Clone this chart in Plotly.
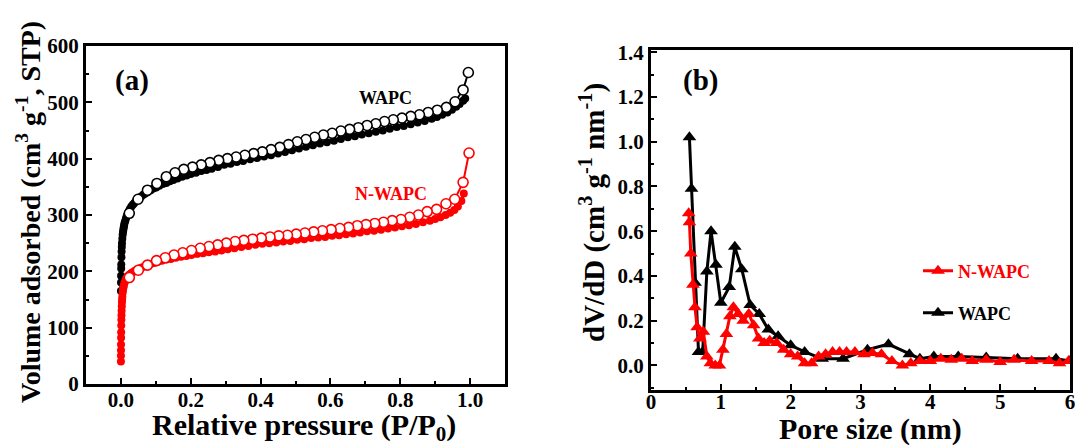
import plotly.graph_objects as go

W, H = 1077, 445

# ---------------- Panel (a): N2 isotherms ----------------
wapc_ads_p = [0.0001, 0.0003, 0.0005, 0.0008, 0.001, 0.0015, 0.002, 0.0025, 0.003, 0.004,
              0.005, 0.006, 0.007, 0.008, 0.009, 0.010, 0.012, 0.014, 0.016, 0.018,
              0.020, 0.023, 0.026, 0.030, 0.034, 0.038, 0.042, 0.047, 0.052, 0.058,
              0.064, 0.070, 0.077, 0.085, 0.093, 0.101, 0.110, 0.120, 0.130, 0.140,
              0.150, 0.162, 0.175, 0.188, 0.200, 0.215, 0.230, 0.245, 0.260, 0.278,
              0.296, 0.314, 0.332, 0.350, 0.370, 0.390, 0.410, 0.430, 0.450, 0.470,
              0.490, 0.510, 0.530, 0.550, 0.570, 0.590, 0.610, 0.630, 0.650, 0.670,
              0.690, 0.710, 0.730, 0.750, 0.770, 0.790, 0.810, 0.830, 0.850, 0.870,
              0.890, 0.905, 0.920, 0.935, 0.948, 0.960, 0.970, 0.980, 0.986]
wapc_ads_v = [165, 180, 192, 205, 212, 225, 235, 243, 250, 258,
              265, 270, 274, 278, 281, 285, 289, 293, 297, 300,
              303, 307, 311, 315, 318, 321, 324, 327, 330, 333,
              336, 338, 341, 344, 347, 349, 352, 355, 357, 360,
              362, 365, 368, 370, 373, 375, 378, 380, 382, 385,
              389, 391, 394, 396, 399, 401, 404, 406, 409, 412,
              415, 418, 421, 424, 427, 429, 432, 435, 438, 440,
              443, 445, 448, 450, 453, 456, 458, 461, 464, 467,
              471, 474, 478, 482, 487, 492, 497, 503, 507]

wapc_des_p = [0.995, 0.980, 0.957, 0.932, 0.906, 0.880, 0.855, 0.830, 0.805, 0.780,
              0.755, 0.730, 0.705, 0.680, 0.655, 0.630, 0.605, 0.580, 0.555, 0.530,
              0.505, 0.480, 0.455, 0.430, 0.405, 0.380, 0.355, 0.330, 0.305, 0.280,
              0.255, 0.230, 0.205, 0.180, 0.155, 0.130, 0.103, 0.076, 0.049, 0.024]
wapc_des_v = [553, 522, 501, 491, 486, 482, 478, 475, 472, 469,
              466, 462, 459, 455, 452, 449, 445, 442, 438, 434,
              430, 425, 420, 416, 412, 409, 406, 403, 400, 397,
              393, 389, 385, 381, 375, 368, 356, 344, 328, 303]

nwapc_ads_p = [0.0000, 0.0001, 0.0002, 0.0003, 0.0005, 0.0007, 0.001, 0.0013, 0.0016, 0.002,
               0.0025, 0.003, 0.0035, 0.004, 0.005, 0.006, 0.007, 0.008, 0.010, 0.012,
               0.015, 0.018, 0.022, 0.026, 0.030, 0.035, 0.040, 0.046, 0.052, 0.060,
               0.068, 0.076, 0.085, 0.095, 0.105, 0.117, 0.130, 0.143, 0.157, 0.172,
               0.187, 0.202, 0.218, 0.235, 0.252, 0.270, 0.288, 0.306, 0.325, 0.345,
               0.365, 0.385, 0.405, 0.425, 0.445, 0.465, 0.485, 0.505, 0.525, 0.545,
               0.565, 0.585, 0.605, 0.625, 0.645, 0.665, 0.685, 0.705, 0.725, 0.745,
               0.765, 0.785, 0.805, 0.825, 0.845, 0.865, 0.885, 0.900, 0.915, 0.930,
               0.943, 0.955, 0.965, 0.975, 0.982]
nwapc_ads_v = [40, 50, 60, 70, 82, 92, 104, 114, 122, 130,
               138, 145, 150, 155, 162, 167, 171, 174, 179, 183,
               187, 190, 193, 195, 197, 199, 201, 203, 205, 207,
               209, 211, 213, 215, 217, 219, 221, 222, 224, 226,
               227, 229, 231, 232, 234, 235, 237, 239, 241, 243,
               245, 247, 249, 250, 251, 253, 254, 256, 257, 259,
               260, 261, 263, 264, 266, 267, 269, 271, 272, 274,
               276, 278, 280, 282, 284, 287, 290, 293, 296, 300,
               304, 309, 315, 325, 338]

nwapc_des_p = [0.997, 0.980, 0.956, 0.931, 0.904, 0.877, 0.852, 0.827, 0.802, 0.777,
               0.752, 0.727, 0.702, 0.677, 0.652, 0.627, 0.602, 0.577, 0.552, 0.527,
               0.502, 0.477, 0.452, 0.427, 0.402, 0.377, 0.352, 0.327, 0.302, 0.277,
               0.252, 0.227, 0.202, 0.177, 0.152, 0.127, 0.102, 0.076, 0.050, 0.024]
nwapc_des_v = [410, 358, 328, 320, 310, 306, 300, 296, 292, 290,
               287, 285, 283, 281, 278, 276, 274, 272, 270, 268,
               266, 264, 263, 261, 259, 257, 255, 253, 250, 247,
               244, 241, 237, 233, 229, 224, 219, 211, 202, 189]

# ---------------- Panel (b): pore size distribution ----------------
wapc_psd_d = [0.55, 0.58, 0.63, 0.68, 0.74, 0.80, 0.86, 0.93, 1.00, 1.12,
              1.20, 1.30, 1.42, 1.55, 1.68, 1.82, 2.00, 2.20, 2.45, 2.75,
              3.10, 3.40, 3.70, 3.85, 4.05, 4.40, 4.80, 5.25, 5.80, 6.00]
wapc_psd_v = [1.02, 0.79, 0.37, 0.06, 0.06, 0.42, 0.60, 0.45, 0.28, 0.35,
              0.53, 0.43, 0.27, 0.23, 0.16, 0.13, 0.09, 0.06, 0.03, 0.03,
              0.07, 0.095, 0.05, 0.03, 0.04, 0.04, 0.035, 0.03, 0.03, 0.02]

nwapc_psd_d = [0.54, 0.55, 0.57, 0.60, 0.63, 0.66, 0.70, 0.75, 0.80, 0.85,
               0.92, 0.98, 1.03, 1.08, 1.13, 1.18, 1.25, 1.32, 1.40, 1.47,
               1.54, 1.62, 1.70, 1.80, 1.90, 2.00, 2.10, 2.20, 2.30, 2.40,
               2.50, 2.60, 2.70, 2.80, 2.92, 3.05, 3.17, 3.30, 3.45, 3.60,
               3.72, 3.85, 4.00, 4.15, 4.30, 4.45, 4.60, 4.80, 5.00, 5.20,
               5.45, 5.70, 5.85, 5.98]
nwapc_psd_v = [0.68, 0.64, 0.50, 0.36, 0.26, 0.17, 0.12, 0.15, 0.04, 0.01,
               0.00, 0.00, 0.07, 0.14, 0.22, 0.26, 0.23, 0.20, 0.23, 0.18,
               0.12, 0.10, 0.11, 0.10, 0.07, 0.05, 0.04, 0.01, 0.01, 0.04,
               0.05, 0.06, 0.06, 0.06, 0.06, 0.05, 0.055, 0.05, 0.02, 0.00,
               0.01, 0.02, 0.02, 0.03, 0.025, 0.03, 0.02, 0.025, 0.015, 0.025,
               0.02, 0.02, 0.01, 0.02]

RED = "#ff0000"
BLK = "#000000"
FONT = "Liberation Serif, Times New Roman, Times, serif"

fig = go.Figure()

# panel (a) traces
fig.add_trace(go.Scatter(x=wapc_ads_p, y=wapc_ads_v, mode="lines+markers",
                         line=dict(color=BLK, width=3),
                         marker=dict(symbol="circle", size=8, color=BLK),
                         xaxis="x", yaxis="y", showlegend=False))
fig.add_trace(go.Scatter(x=nwapc_ads_p, y=nwapc_ads_v, mode="lines+markers",
                         line=dict(color=RED, width=3),
                         marker=dict(symbol="circle", size=8, color=RED),
                         xaxis="x", yaxis="y", showlegend=False))
fig.add_trace(go.Scatter(x=wapc_des_p, y=wapc_des_v, mode="lines+markers",
                         line=dict(color=BLK, width=2),
                         marker=dict(symbol="circle", size=10, color="white",
                                     line=dict(color=BLK, width=1.6)),
                         xaxis="x", yaxis="y", showlegend=False))
fig.add_trace(go.Scatter(x=nwapc_des_p, y=nwapc_des_v, mode="lines+markers",
                         line=dict(color=RED, width=2),
                         marker=dict(symbol="circle", size=10, color="white",
                                     line=dict(color=RED, width=1.6)),
                         xaxis="x", yaxis="y", showlegend=False))

# panel (b) traces
fig.add_trace(go.Scatter(x=wapc_psd_d, y=wapc_psd_v, mode="lines+markers",
                         name="<b>WAPC</b>",
                         line=dict(color=BLK, width=3),
                         marker=dict(symbol="triangle-up", size=12, color=BLK),
                         xaxis="x2", yaxis="y2", legend="legend2"))
fig.add_trace(go.Scatter(x=nwapc_psd_d, y=nwapc_psd_v, mode="lines+markers",
                         name="<b><span style='color:#ff0000'>N-WAPC</span></b>",
                         line=dict(color=RED, width=3),
                         marker=dict(symbol="triangle-up", size=12, color=RED),
                         xaxis="x2", yaxis="y2", legend="legend"))

def px_x(p):
    return p / W

def px_y(p):
    return (H - p) / H

tickfont = dict(family=FONT, size=21, color=BLK, weight="bold")
axis_common = dict(showline=True, linecolor=BLK, linewidth=3, mirror=True,
                   ticks="inside", ticklen=6, tickwidth=2, tickcolor=BLK,
                   showgrid=False, zeroline=False, tickfont=tickfont,
                   automargin=False)
minor_common = dict(ticks="inside", ticklen=3, tickwidth=2, tickcolor=BLK, showgrid=False)

fig.update_layout(
    width=W, height=H, autosize=False,
    margin=dict(l=0, r=0, t=0, b=0),
    paper_bgcolor="white", plot_bgcolor="white",
    xaxis=dict(domain=[px_x(86), px_x(505)], range=[-0.1, 1.1], dtick=0.2, tick0=0,
               tickformat=".1f", anchor="y", minor=dict(dtick=0.1, **minor_common),
               ticklabelstandoff=-5, **axis_common),
    yaxis=dict(domain=[px_y(384), px_y(46)], range=[0, 600], dtick=100, tick0=0,
               anchor="x", minor=dict(dtick=50, **minor_common), **axis_common),
    xaxis2=dict(domain=[px_x(651), px_x(1070)], range=[0, 6], dtick=1, tick0=0,
                anchor="y2", minor=dict(dtick=0.5, **minor_common),
                ticklabelstandoff=-9, **axis_common),
    yaxis2=dict(domain=[px_y(390), px_y(50)], range=[-0.11, 1.41], dtick=0.2, tick0=0,
                tickformat=".1f", anchor="x2", minor=dict(dtick=0.1, **minor_common),
                **axis_common),
    legend=dict(x=px_x(918), y=px_y(271), xanchor="left", yanchor="middle",
                bgcolor="rgba(0,0,0,0)", borderwidth=0,
                font=dict(family=FONT, size=18, color=BLK)),
    legend2=dict(x=px_x(918), y=px_y(313), xanchor="left", yanchor="middle",
                 bgcolor="rgba(0,0,0,0)", borderwidth=0,
                 font=dict(family=FONT, size=18, color=BLK)),
)

def ann(text, x, y, size, color=BLK, angle=0):
    fig.add_annotation(text=text, x=px_x(x), y=px_y(y), xref="paper", yref="paper",
                       xanchor="center", yanchor="middle", showarrow=False,
                       textangle=angle,
                       font=dict(family=FONT, size=size, color=color, weight="bold"))

ann("(a)", 132, 80, 29)
ann("(b)", 700, 80, 29)
ann("WAPC", 385, 98, 18)
ann("N-WAPC", 391, 194, 18, color=RED)
ann("Relative pressure (P/P<sub>0</sub>)", 304, 427, 30)
ann("Pore size (nm)", 870, 429, 30)
ann("Volume adsorbed (cm<sup>3</sup> g<sup>-1</sup>, STP)", 28, 212, 28, angle=-90)
ann("dV/dD (cm<sup>3</sup> g<sup>-1</sup> nm<sup>-1</sup>)", 592, 213, 29, angle=-90)

fig.write_html("out.html")
